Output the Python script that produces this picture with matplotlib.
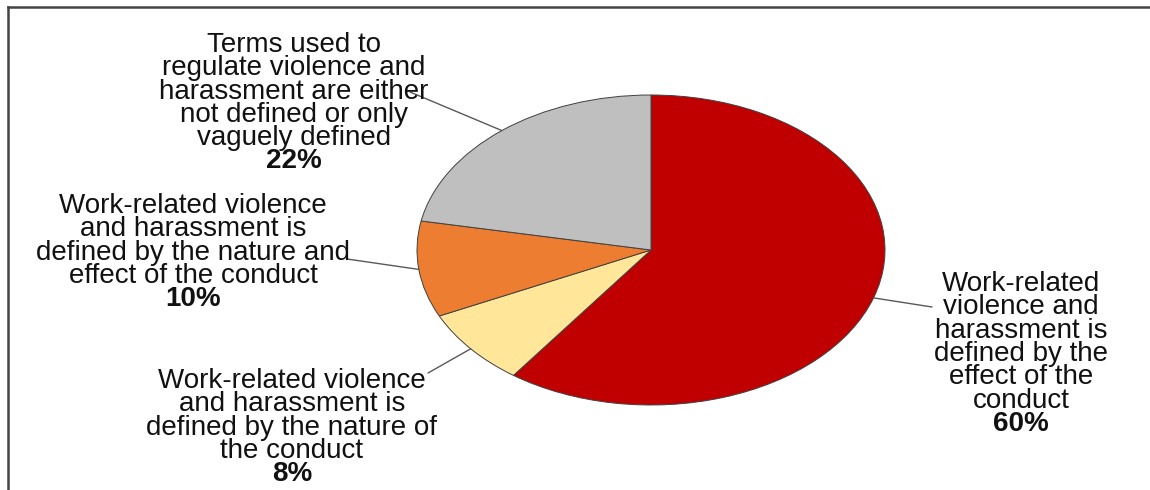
import numpy as np
import matplotlib
matplotlib.use("Agg")
import matplotlib.pyplot as plt
from matplotlib.lines import Line2D

plt.rcParams['font.family'] = ['Liberation Sans', 'DejaVu Sans']

# ---- data ----
categories = [
    "Work-related\nviolence and\nharassment is\ndefined by the\neffect of the\nconduct",
    "Work-related violence\nand harassment is\ndefined by the nature of\nthe conduct",
    "Work-related violence\nand harassment is\ndefined by the nature and\neffect of the conduct",
    "Terms used to\nregulate violence and\nharassment are either\nnot defined or only\nvaguely defined",
]
values = [60, 8, 10, 22]
pct_labels = ["60%", "8%", "10%", "22%"]
colors = ["#C00000", "#FFE699", "#ED7D31", "#BFBFBF"]

# ---- layout (pixels) ----
W, H = 1150, 490
cx, cy, rx, ry = 651, 250, 234, 155
# label block: (center x, first baseline y from top), leader-line text end (x, y from top)
label_pos = [(1021, 291), (292, 388), (193, 213), (294, 52)]
leader_end = [(932, 307), (428, 373), (347, 259), (410, 92)]
line_step = 23.3
fsize = 20

fig = plt.figure(figsize=(W / 100, H / 100), dpi=100)
ax = fig.add_axes([0, 0, 1, 1])
wedges, _ = ax.pie(values, colors=colors, startangle=90, counterclock=False,
                   wedgeprops=dict(edgecolor="#404040", linewidth=0.7))
ax.set_aspect('auto')
ax.set_xlim(-cx / rx, (W - cx) / rx)
ax.set_ylim(-(H - cy) / ry, cy / ry)
ax.axis('off')

for w, (ex, ey) in zip(wedges, leader_end):
    mid = np.deg2rad((w.theta1 + w.theta2) / 2)
    px, py = np.cos(mid), np.sin(mid)
    ax.annotate('', xy=(px, py), xycoords='data',
                xytext=(ex, H - ey), textcoords='figure pixels',
                arrowprops=dict(arrowstyle='-', color='#595959', lw=1.0,
                                shrinkA=0, shrinkB=0))

for text, pct, (lx, ly) in zip(categories, pct_labels, label_pos):
    lines = text.split("\n")
    for i, ln in enumerate(lines + [pct]):
        bold = (i == len(lines))
        fig.text(lx / W, 1 - (ly + i * line_step) / H, ln, ha='center', va='baseline',
                 fontsize=fsize, fontweight='bold' if bold else 'normal', color='#111111')

# frame lines (top and left)
fig.add_artist(Line2D([8 / W, 1], [1 - 7 / H, 1 - 7 / H], transform=fig.transFigure,
                      color='#444444', lw=1.8))
fig.add_artist(Line2D([8 / W, 8 / W], [0, 1 - 7 / H], transform=fig.transFigure,
                      color='#444444', lw=1.8))

fig.savefig("out.png", dpi=100)
